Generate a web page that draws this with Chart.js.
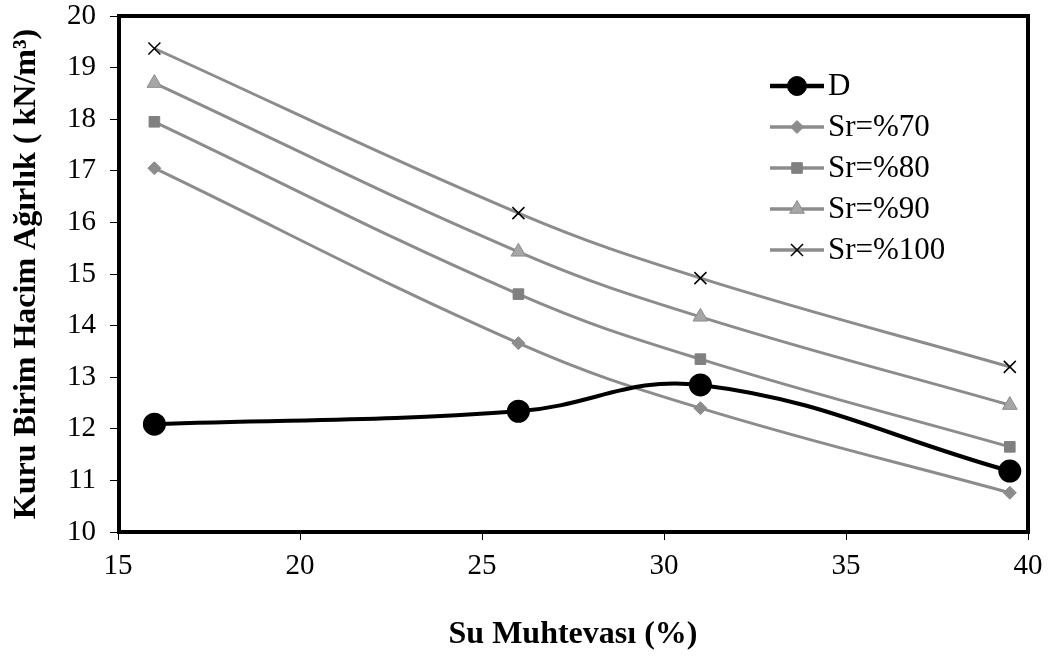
<!DOCTYPE html>
<html>
<head>
<meta charset="utf-8">
<script src="https://cdn.jsdelivr.net/npm/chart.js@4.4.1/dist/chart.umd.min.js"></script>
<style>
  html, body { margin: 0; padding: 0; background: #fff; }
  #wrap { width: 1056px; height: 656px; }
</style>
</head>
<body>
<div id="wrap"><canvas id="chart"></canvas></div>
<script>
// su muhtevasi (%) for every series
var waterContent = [16, 26, 31, 39.5];

// kuru birim hacim agirlik (kN/m3)
var seriesD = [12.09, 12.34, 12.85, 11.18];
var sr70 = [17.05, 13.66, 12.40, 10.76];
var sr80 = [17.95, 14.61, 13.35, 11.65];
var sr90 = [18.70, 15.43, 14.17, 12.46];
var sr100 = [19.37, 16.18, 14.92, 13.20];

var seriesNames = ['D', 'Sr=%70', 'Sr=%80', 'Sr=%90', 'Sr=%100'];
var xTicks = [15, 20, 25, 30, 35, 40];
var yTicks = [10, 11, 12, 13, 14, 15, 16, 17, 18, 19, 20];

function toPoints(ys) {
    return ys.map(function (y, i) { return {x: waterContent[i], y: y}; });
}

var gray = '#8c8c8c';

function grayLine(label, values, style, radius, fill, border, bw) {
    return {
        label: label,
        data: toPoints(values),
        borderColor: gray,
        borderWidth: 3,
        pointStyle: style,
        pointRadius: radius,
        pointBackgroundColor: fill,
        pointBorderColor: border,
        pointBorderWidth: bw,
        tension: 0.4
    };
}

var datasets = [
    {
        label: seriesNames[0],
        data: toPoints(seriesD),
        borderColor: '#000',
        borderWidth: 4,
        pointStyle: 'circle',
        pointRadius: 9.5,
        pointBackgroundColor: '#000',
        pointBorderColor: '#000',
        tension: 0.4
    },
    grayLine(seriesNames[1], sr70, 'rectRot', 6.5, '#8c8c8c', '#8c8c8c', 1),
    grayLine(seriesNames[2], sr80, 'rect', 7.5, '#808080', '#808080', 1),
    grayLine(seriesNames[3], sr90, 'triangle', 8.5, '#a6a6a6', '#8c8c8c', 1),
    grayLine(seriesNames[4], sr100, 'crossRot', 8.5, '#000', '#000', 1.5)
];

// legend drawn inside the plot, line + marker like the original
var insideLegend = {
    id: 'insideLegend',
    afterDraw: function (chart) {
        var ctx = chart.ctx, area = chart.chartArea;
        var x0 = area.right - 258, x1 = area.right - 204;
        ctx.save();
        chart.data.datasets.forEach(function (ds, i) {
            var y = area.top + 70 + i * 41;
            ctx.strokeStyle = ds.borderColor;
            ctx.lineWidth = ds.borderWidth + 0.5;
            ctx.beginPath();
            ctx.moveTo(x0, y);
            ctx.lineTo(x1, y);
            ctx.stroke();
            ctx.fillStyle = ds.pointBackgroundColor;
            ctx.strokeStyle = ds.pointBorderColor;
            ctx.lineWidth = ds.pointBorderWidth || 1;
            Chart.helpers.drawPoint(ctx, {
                pointStyle: ds.pointStyle,
                radius: ds.pointRadius,
                rotation: 0,
                borderWidth: ds.pointBorderWidth || 1
            }, (x0 + x1) / 2, y);
            ctx.fillStyle = '#000';
            ctx.font = '31px "Liberation Serif"';
            ctx.textBaseline = 'middle';
            ctx.textAlign = 'left';
            ctx.fillText(ds.label, x1 + 4, y + 1);
        });
        ctx.restore();
    }
};

var frame = {
    id: 'frame',
    afterDatasetsDraw: function (chart) {
        var a = chart.chartArea, ctx = chart.ctx;
        ctx.save();
        ctx.strokeStyle = '#000';
        ctx.lineWidth = 4;
        ctx.strokeRect(a.left + 1, a.top, a.right - a.left - 1, a.bottom - a.top);
        ctx.restore();
    }
};

var ctx = document.getElementById('chart').getContext('2d');
var chart = new Chart(ctx, {
    type: 'line',
    data: {datasets: datasets},
    options: {
        responsive: true,
        maintainAspectRatio: false,
        animation: false,
        layout: {padding: {top: 16, right: 28, bottom: 0, left: 0}},
        plugins: {legend: {display: false}, tooltip: {enabled: false}},
        scales: {
            x: {
                type: 'linear',
                min: 15,
                max: 40,
                afterBuildTicks: function (s) { s.ticks = xTicks.map(function (v) { return {value: v}; }); },
                afterFit: function (s) {
                    s.height = 124;
                    s.paddingLeft = 0;
                    s.paddingRight = 0;
                },
                grid: {drawOnChartArea: false, drawTicks: true, tickLength: 8, color: '#000'},
                border: {display: false},
                ticks: {color: '#000', padding: 9, font: {family: 'Liberation Serif', size: 29}},
                title: {
                    display: true,
                    text: 'Su Muhtevası (%)',
                    color: '#000',
                    padding: {top: 2, bottom: 2},
                    font: {family: 'Liberation Serif', size: 32, weight: 'bold'}
                }
            },
            y: {
                min: 10,
                max: 20,
                afterBuildTicks: function (s) { s.ticks = yTicks.map(function (v) { return {value: v}; }); },
                afterFit: function (s) {
                    s.width = 118;
                    s.paddingTop = 0;
                    s.paddingBottom = 0;
                },
                grid: {drawOnChartArea: false, drawTicks: true, tickLength: 8, color: '#000'},
                border: {display: false},
                ticks: {color: '#000', padding: 14, font: {family: 'Liberation Serif', size: 29}},
                title: {
                    display: true,
                    text: 'Kuru Birim Hacim Ağırlık ( kN/m³)',
                    color: '#000',
                    padding: {top: 8, bottom: 8},
                    font: {family: 'Liberation Serif', size: 32, weight: 'bold'}
                }
            }
        }
    },
    plugins: [frame, insideLegend]
});
</script>
</body>
</html>
